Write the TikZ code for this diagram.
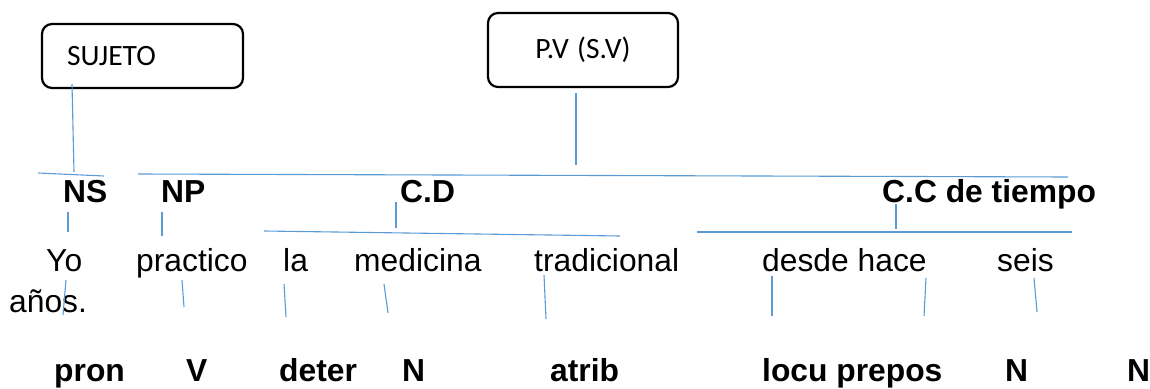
\documentclass[tikz,border=0pt]{standalone}
\usepackage{fontspec}
\setmainfont{Liberation Sans}
\newfontfamily\boxfont{Carlito}
\definecolor{lineblue}{HTML}{5B9BD5}
\begin{document}
\begin{tikzpicture}[x=1pt,y=-1pt,
  conn/.style={draw=lineblue, line width=1.1pt},
  box/.style={draw=black, line width=2.2pt, rounded corners=10pt, inner ysep=0pt, minimum height=#1, font=\boxfont\fontsize{29.5}{34}\selectfont},
  cat/.style={anchor=base west, inner sep=0pt, font=\bfseries\fontsize{31.8}{38}\selectfont},
  word/.style={anchor=base west, inner sep=0pt, font=\fontsize{31.8}{38}\selectfont}]
\useasboundingbox (0,0) rectangle (1150,388);
% boxes
\node[box=64pt, text width=151pt, inner xsep=25pt, align=left] (suj) at (142.5,56) {SUJETO};
\node[box=74pt, minimum width=190pt] (pv) at (583,50) {P.V\kern1.5pt\ (S.V)};
% row 1
\node[cat] (ns) at (63,202) {NS};
\node[cat] (np) at (161,202) {NP};
\node[cat] (cd) at (400,202) {C.D};
\node[cat] (cc) at (882,202) {C.C de tiempo};
% row 2
\node[word] (yo) at (46,271) {Yo};
\node[word] (practico) at (136,271) {practico};
\node[word] (la) at (283,271) {la};
\node[word] (medicina) at (354,271) {medicina};
\node[word] (tradicional) at (534,271) {tradicional};
\node[word] (desde) at (762,271) {desde hace};
\node[word] (seis) at (997,271) {seis};
\node[word] (anos) at (9,312) {años.};
% row 3
\node[cat] (pron) at (54,381) {pron};
\node[cat] (v) at (186,381) {V};
\node[cat] (deter) at (279,381) {deter};
\node[cat] (n1) at (402,381) {N};
\node[cat] (atrib) at (550,381) {atrib};
\node[cat] (locu) at (762,381) {locu prepos};
\node[cat] (n2) at (1005,381) {N};
\node[cat] (n3) at (1127,381) {N};
% coordinates for connector ends
\coordinate (s1) at (72,84);   \coordinate (s2) at (74,172);
\coordinate (nsa) at (38,173); \coordinate (nsb) at (104,176);
\coordinate (pva) at (138,174); \coordinate (pvb) at (1068,177);
\coordinate (p1) at (576,93);  \coordinate (p2) at (576,165);
\coordinate (ns1) at (68,212); \coordinate (ns2) at (68,232);
\coordinate (np1) at (162,212); \coordinate (np2) at (162,236);
\coordinate (cda) at (264,231); \coordinate (cdb) at (620,236);
\coordinate (cd1) at (396,202); \coordinate (cd2) at (396,228);
\coordinate (cca) at (697,232); \coordinate (ccb) at (1072,232);
\coordinate (cc1) at (896,204); \coordinate (cc2) at (896,229);
\coordinate (w1a) at (66,280);  \coordinate (w1b) at (63,315);
\coordinate (w2a) at (182,280); \coordinate (w2b) at (184,307);
\coordinate (w3a) at (284,284); \coordinate (w3b) at (286,317);
\coordinate (w4a) at (384,284); \coordinate (w4b) at (388,313);
\coordinate (w5a) at (544,275); \coordinate (w5b) at (546,319);
\coordinate (w6a) at (772,276); \coordinate (w6b) at (772,316);
\coordinate (w7a) at (926,278); \coordinate (w7b) at (924,316);
\coordinate (w8a) at (1034,278); \coordinate (w8b) at (1037,312);
% connectors
\draw[conn] (s1) -- (s2);
\draw[conn] (nsa) -- (nsb);
\draw[conn] (pva) -- (pvb);
\draw[conn] (p1) -- (p2);
\draw[conn] (ns1) -- (ns2);
\draw[conn] (np1) -- (np2);
\draw[conn] (cda) -- (cdb);
\draw[conn] (cd1) -- (cd2);
\draw[conn] (cca) -- (ccb);
\draw[conn] (cc1) -- (cc2);
\draw[conn] (w1a) -- (w1b);
\draw[conn] (w2a) -- (w2b);
\draw[conn] (w3a) -- (w3b);
\draw[conn] (w4a) -- (w4b);
\draw[conn] (w5a) -- (w5b);
\draw[conn] (w6a) -- (w6b);
\draw[conn] (w7a) -- (w7b);
\draw[conn] (w8a) -- (w8b);
\end{tikzpicture}
\end{document}
